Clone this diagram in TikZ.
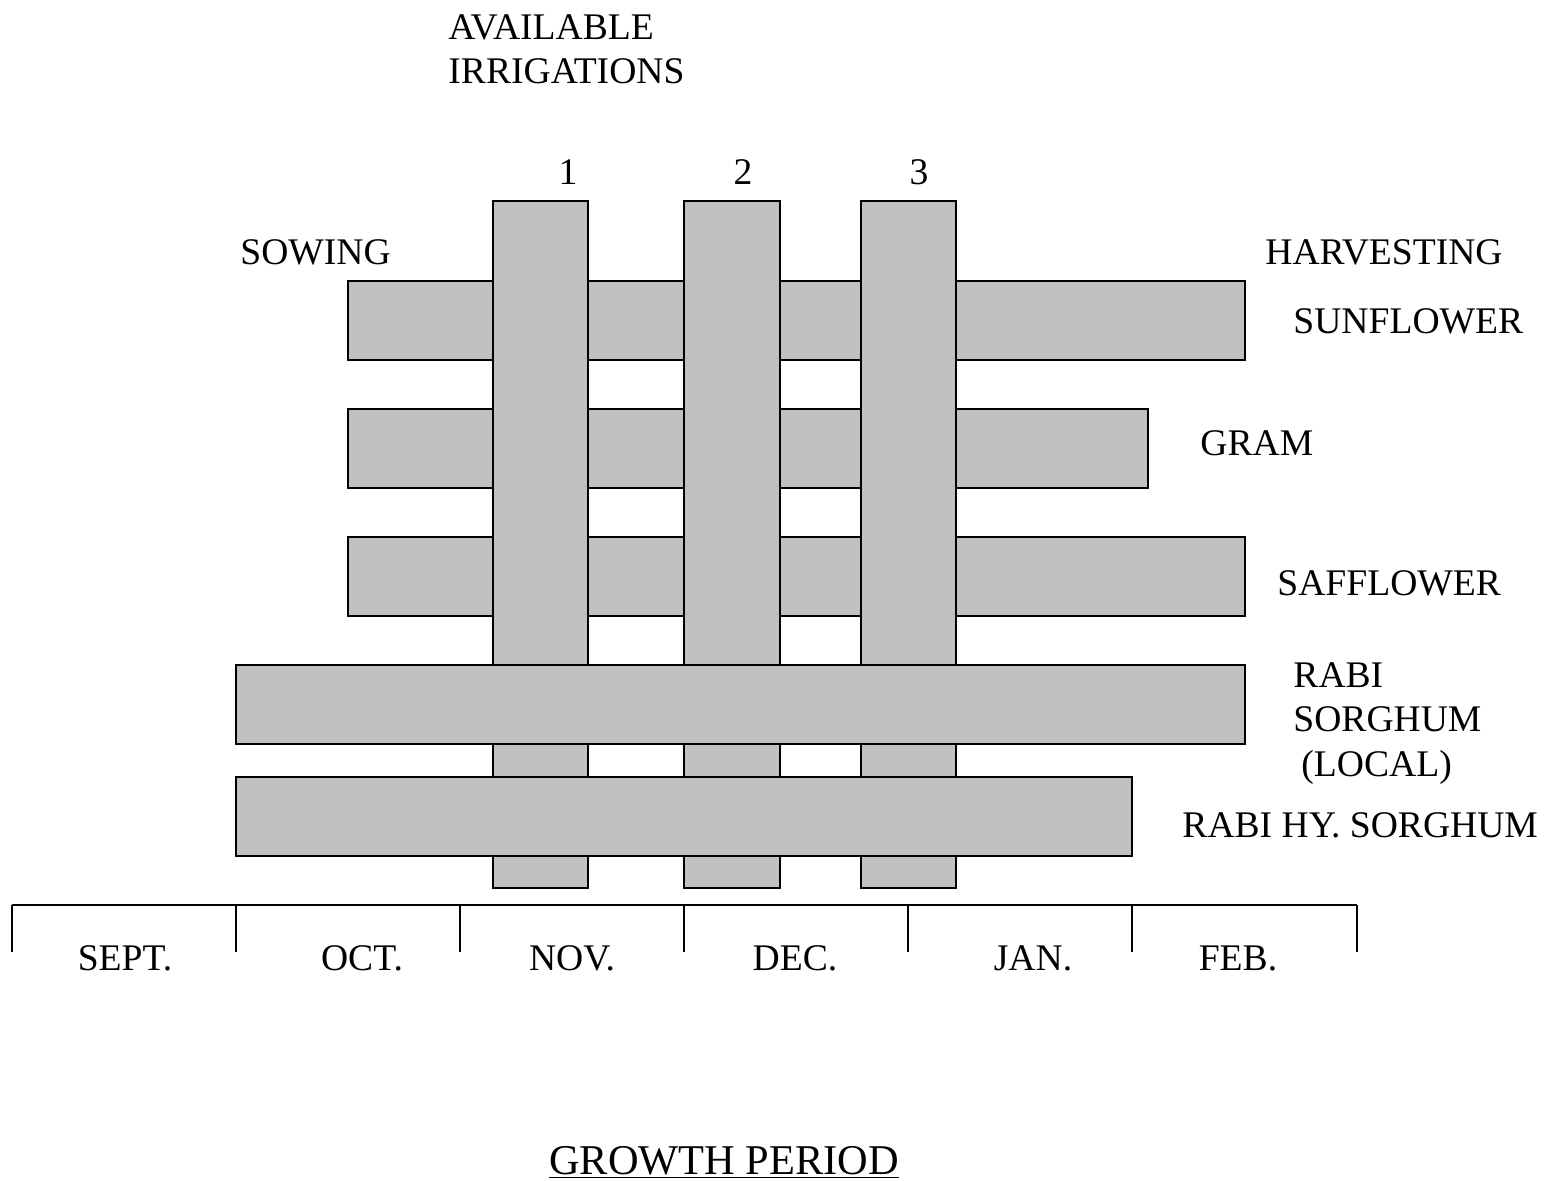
\documentclass[tikz,border=0pt]{standalone}
\usepackage{fontspec}
\setmainfont{Liberation Serif}
\begin{document}
\begin{tikzpicture}[x=0.5pt,y=-0.5pt,
  bar/.style={draw=black,line width=1pt,fill={rgb,255:red,192;green,192;blue,192}},
  lbl/.style={inner sep=0pt,anchor=base west,font=\fontsize{18.8}{22}\selectfont},
  clbl/.style={inner sep=0pt,anchor=base,font=\fontsize{18.8}{22}\selectfont},
  axis/.style={line width=0.8pt}]
\useasboundingbox (0,0) rectangle (1545,1181);
% upper horizontal bars (beneath irrigation bars)
\draw[bar] (348,281) rectangle (1245,360) coordinate (sunE);
\draw[bar] (348,409) rectangle (1148,488) coordinate (gramE);
\draw[bar] (348,537) rectangle (1245,616) coordinate (saffE);
% irrigation bars
\draw[bar] (493,201) rectangle (588,888) coordinate (ir1);
\draw[bar] (684,201) rectangle (780,888) coordinate (ir2);
\draw[bar] (861,201) rectangle (956,888) coordinate (ir3);
% lower horizontal bars (above irrigation bars)
\draw[bar] (236,665) rectangle (1245,744) coordinate (rabiE);
\draw[bar] (236,777) rectangle (1132,856) coordinate (hyE);
% labels
\node[lbl] (av) at (448,40) {AVAILABLE};
\node[lbl] (irr) at (448,84) {IRRIGATIONS};
\node[clbl] (n1) at (568,185) {1};
\node[clbl] (n2) at (743,185) {2};
\node[clbl] (n3) at (919,185) {3};
\node[lbl] (sow) at (240,265) {SOWING};
\node[lbl] (harv) at (1265,265) {HARVESTING};
\node[lbl] (sun) at (1293,334) {SUNFLOWER};
\node[lbl] (gram) at (1200,455) {GRAM};
\node[lbl] (saff) at (1277,595) {SAFFLOWER};
\node[lbl] (rabi1) at (1293,687) {RABI};
\node[lbl] (rabi2) at (1293,731) {SORGHUM};
\node[lbl] (rabi3) at (1301,776) {(LOCAL)};
\node[lbl] (hy) at (1182,837) {RABI HY. SORGHUM};
% time axis
\coordinate (t0) at (12,905);
\coordinate (t6) at (1357,905);
\draw[axis] (t0) -- (t6);
\foreach \x in {12,236,460,684,908,1132,1357}
  \draw[axis] (\x,905) -- (\x,952);
\node[clbl] (sep) at (125,970) {SEPT.};
\node[clbl] (oct) at (362,970) {OCT.};
\node[clbl] (nov) at (572,970) {NOV.};
\node[clbl] (dec) at (795,970) {DEC.};
\node[clbl] (jan) at (1033,970) {JAN.};
\node[clbl] (feb) at (1238,970) {FEB.};
\node[inner sep=0pt,anchor=base,font=\fontsize{21.2}{25}\selectfont] (gp) at (724,1174) {GROWTH PERIOD};
\draw[line width=0.8pt] ([yshift=-1.8pt]gp.base west) -- ([yshift=-1.8pt]gp.base east);
\end{tikzpicture}
\end{document}
